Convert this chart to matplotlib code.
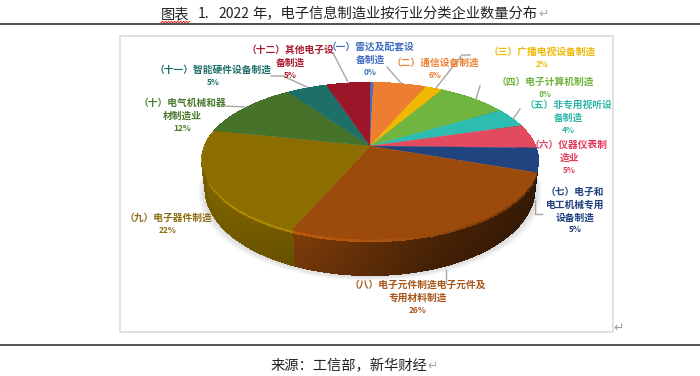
import numpy as np
import matplotlib
matplotlib.use('Agg')
import matplotlib.pyplot as plt
from matplotlib.collections import PolyCollection
from matplotlib.colors import to_rgb

plt.rcParams['font.family'] = ['Noto Sans CJK SC', 'DejaVu Sans']

# share of enterprises per sub-sector
names = ['（一）雷达及配套设\n备制造', '（二）通信设备制造', '（三）广播电视设备制造', '（四）电子计算机制造',
         '（五）非专用视听设\n备制造', '（六）仪器仪表制\n造业', '（七）电子和\n电工机械专用\n设备制造',
         '（八）电子元件制造电子元件及\n专用材料制造', '（九）电子器件制造', '（十）电气机械和器\n材制造业',
         '（十一）智能硬件设备制造', '（十二）其他电子设\n备制造']
values = [0.4, 6, 2, 8, 4, 5, 5, 26, 22, 12, 4.6, 5]
pct_labels = ['0%', '6%', '2%', '8%', '4%', '5%', '5%', '26%', '22%', '12%', '5%', '5%']

colors = ['#4472C4', '#ED7D31', '#F0B800', '#70B53F', '#2CBDB0', '#E24A5F',
          '#1F4480', '#9C4B0C', '#8C6E00', '#46722A', '#1D7068', '#9A1628']
text_colors = ['#3F6CC0', '#ED7D31', '#F0B800', '#6FB33C', '#2CB5A8', '#E5395A',
               '#1F3F7F', '#A8551A', '#8C6E10', '#4B7A2E', '#1D7068', '#A81C30']
label_pos = [(370, 47), (435, 63), (542, 52), (545, 82), (568, 105), (569, 145),
             (575, 192), (418, 285), (168, 218), (182, 103), (213, 70), (290, 50)]
leaders = [[(401, 83), (387, 67)],
           [(436, 88), (462, 55), (470, 55)],
           [(476, 99), (480, 86)],
           [(513, 119), (520, 109)],
           [(535, 200), (535, 214), (542, 214)],
           [(446, 270), (446, 283)],
           [(226, 106), (246, 107)],
           [(271, 76), (283, 76), (307, 87)],
           [(333, 53), (348, 82)]]

# perspective circle -> pixels, apex is not in the middle of the ellipse
cx, cy, rx, ry, k = 370, 146, 165, 74.8, 0.187


def rim(theta):
    c, s = np.sin(theta), np.cos(theta)
    d = 1 + k * s
    return cx + rx * c / d, cy - ry * s / d, s


def rim_low(theta, depth=1.0):
    x, y, s = rim(theta)
    return cx + (x - cx) * (1 - 0.02 * depth), y + (25 - 12 * s) * depth


fig = plt.figure(figsize=(7, 3.76), dpi=100)
ax = fig.add_axes([0, 0, 1, 1])
ax.set_xlim(0, 700)
ax.set_ylim(376, 0)
ax.axis('off')

# page lines and chart frame
ax.plot([0, 700], [24, 24], color='#222222', lw=1.1)
ax.plot([0, 700], [345, 345], color='#222222', lw=1.1)
ax.plot([120, 613, 613, 120, 120], [36, 36, 332, 332, 36], color='#DCDCDC', lw=1.2)

ax.text(161, 14, '图表', fontsize=10.3, color='#222222', ha='left', va='center')
ax.text(198, 14, '1.', fontsize=10, color='#222222', ha='left', va='center')
ax.text(218, 14, '2022', fontsize=10, color='#222222', ha='left', va='center')
ax.text(252, 14, '年，电子信息制造业按行业分类企业数量分布', fontsize=10.3, color='#222222',
        ha='left', va='center')
ax.text(544, 14, '↵', fontsize=9, color='#AAAAAA', ha='center', va='center')
ax.text(349, 366, '来源：工信部，新华财经', fontsize=10.3, color='#222222', ha='center', va='center')
ax.text(433, 366, '↵', fontsize=9, color='#AAAAAA', ha='center', va='center')
ax.text(619, 328, '↵', fontsize=9, color='#999999', ha='center', va='center')

# spell check squiggle under the first two characters
squiggle_x = np.arange(161, 191, 1.5)
squiggle_y = 22 + 0.7 * (-1.0) ** np.arange(len(squiggle_x))
ax.plot(squiggle_x, squiggle_y, color='#E02020', lw=0.7)

edges = np.cumsum([0] + values) / sum(values) * 2 * np.pi

# soft shadow below the pie
t = np.linspace(0, 2 * np.pi, 240)
for grow in [7, 5.5, 4, 2.5, 1]:
    sx, sy = rim_low(t)
    sx = cx + (sx - cx) * (1 + grow / 165)
    sy = sy + grow * 0.8
    ax.fill(sx, sy, color='#808080', alpha=0.07, lw=0)

# side wall, built from thin quads so the shading can vary
polys, fills = [], []
n_bands = 14
for a0, a1, col in zip(edges[:-1], edges[1:], colors):
    base = np.array(to_rgb(col))
    n = max(2, int((a1 - a0) / 0.012))
    ts = np.linspace(a0, a1, n + 1)
    for t0, t1 in zip(ts[:-1], ts[1:]):
        xmid = rim((t0 + t1) / 2)[0]
        side = np.interp(xmid, [205, 300, 440, 535], [0.92, 0.8, 0.46, 0.36])
        for b in range(n_bands):
            d0, d1 = b / n_bands, (b + 1) / n_bands
            x00, y00 = rim_low(t0, d0)
            x10, y10 = rim_low(t1, d0)
            x11, y11 = rim_low(t1, d1)
            x01, y01 = rim_low(t0, d1)
            polys.append([(x00, y00), (x10, y10), (x11, y11), (x01, y01)])
            if d0 < 0.14:
                light = np.interp(xmid, [205, 380, 535], [1.3, 1.12, 0.72])
                shade = np.interp(d0, [0, 0.07, 0.14], [1.0, light, side])
            else:
                shade = side * (1 - 0.10 * d0)
            fills.append(np.clip(base * shade, 0, 1))
ax.add_collection(PolyCollection(polys, facecolors=fills, edgecolors=fills, linewidths=0.8,
                                 antialiaseds=False))

# top face
for a0, a1, col in zip(edges[:-1], edges[1:], colors):
    ts = np.linspace(a0, a1, max(3, int((a1 - a0) / 0.01)))
    x, y, _ = rim(ts)
    ax.fill(np.r_[cx, x], np.r_[cy, y], color=col, lw=0.2)

for pts in leaders:
    ax.plot([p[0] for p in pts], [p[1] for p in pts], color='#A6A6A6', lw=1.0)

line_h = 12.8
for name, pct, col, (lx, ly) in zip(names, pct_labels, text_colors, label_pos):
    lines = name.split('\n')
    for i, part in enumerate(lines):
        ax.text(lx, ly + i * line_h, part, fontsize=7.0, fontweight='bold', color=col,
                ha='center', va='center')
    ax.text(lx, ly + len(lines) * line_h - 0.5, pct, fontsize=6.0, fontweight='bold', color=col,
            ha='center', va='center')

fig.savefig('out.png', dpi=100)
